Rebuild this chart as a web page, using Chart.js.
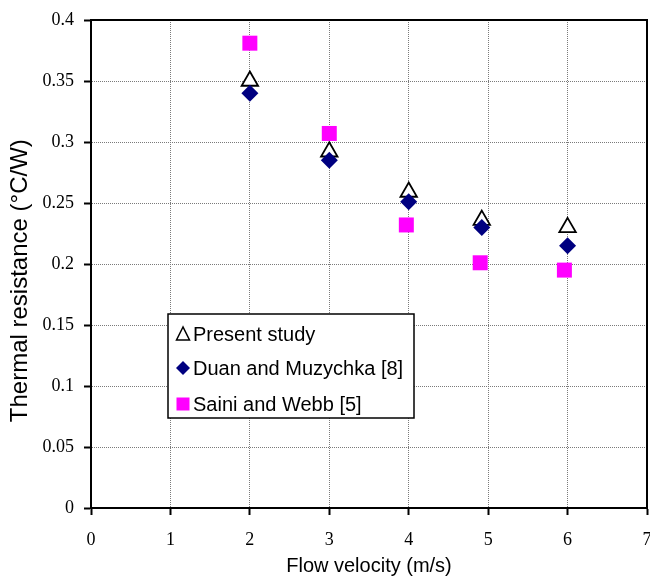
<!DOCTYPE html>
<html>
<head>
<meta charset="utf-8">
<script src="https://cdn.jsdelivr.net/npm/chart.js@4/dist/chart.umd.min.js"></script>
<style>
  body { margin: 0; background: #fff; }
</style>
</head>
<body>
<canvas id="thermalChart" width="650" height="578"></canvas>
<script>
// Data
const seriesNames = ['Present study', 'Duan and Muzychka [8]', 'Saini and Webb [5]'];
const velPresent = [2, 3, 4, 4.92, 6];
const resPresent = [0.35, 0.292, 0.259, 0.236, 0.23];
const velDuan = [2, 3, 4, 4.92, 6];
const resDuan = [0.34, 0.285, 0.251, 0.23, 0.215];
const velSaini = [2, 3, 3.97, 4.9, 5.96];
const resSaini = [0.381, 0.307, 0.232, 0.201, 0.195];

const toPoints = (xs, ys) => xs.map((x, i) => ({ x: x, y: ys[i] }));

// Frame (top + right edges) behind the markers
const framePlugin = {
    id: 'frame',
    beforeDatasetsDraw(chart) {
        const { ctx, chartArea: a } = chart;
        ctx.save();
        ctx.strokeStyle = '#000';
        ctx.lineWidth = 2;
        ctx.beginPath();
        ctx.moveTo(a.left, a.top);
        ctx.lineTo(a.right, a.top);
        ctx.lineTo(a.right, a.bottom);
        ctx.stroke();
        ctx.restore();
    },
};

// Boxed legend inside the plot
const boxLegend = {
    id: 'boxLegend',
    afterDraw(chart) {
        const { ctx, chartArea: a } = chart;
        const bx = a.left + 77, by = a.top + 294, bw = 246, bh = 104;
        ctx.save();
        ctx.fillStyle = '#fff';
        ctx.fillRect(bx, by, bw, bh);
        ctx.strokeStyle = '#000';
        ctx.lineWidth = 1.5;
        ctx.strokeRect(bx, by, bw, bh);

        const sx = bx + 15;
        const rows = [by + 20, by + 54, by + 90];

        // triangle
        ctx.beginPath();
        ctx.moveTo(sx, rows[0] - 7);
        ctx.lineTo(sx - 6.5, rows[0] + 6);
        ctx.lineTo(sx + 6.5, rows[0] + 6);
        ctx.closePath();
        ctx.fillStyle = '#fff';
        ctx.fill();
        ctx.strokeStyle = '#000';
        ctx.lineWidth = 1.5;
        ctx.stroke();

        // diamond
        ctx.beginPath();
        ctx.moveTo(sx, rows[1] - 7);
        ctx.lineTo(sx + 7, rows[1]);
        ctx.lineTo(sx, rows[1] + 7);
        ctx.lineTo(sx - 7, rows[1]);
        ctx.closePath();
        ctx.fillStyle = '#000080';
        ctx.fill();

        // square
        ctx.fillStyle = '#ff00ff';
        ctx.fillRect(sx - 6.5, rows[2] - 6.5, 13, 13);

        ctx.fillStyle = '#000';
        ctx.font = '20px "Liberation Sans", Arial, sans-serif';
        ctx.textBaseline = 'middle';
        ctx.textAlign = 'left';
        seriesNames.forEach((name, i) => ctx.fillText(name, bx + 25, rows[i] + 1));
        ctx.restore();
    },
};

const tickFont = { family: '"Liberation Serif", "Times New Roman", serif', size: 18 };
const titleFont = { family: '"Liberation Sans", Arial, sans-serif' };

const config = {
    type: 'scatter',
    data: {
        datasets: [
            {
                label: seriesNames[0],
                data: toPoints(velPresent, resPresent),
                pointStyle: 'triangle',
                pointRadius: 9.5,
                backgroundColor: '#fff',
                borderColor: '#000',
                borderWidth: 1.8,
                order: 3,
            },
            {
                label: seriesNames[1],
                data: toPoints(velDuan, resDuan),
                pointStyle: 'rectRot',
                pointRadius: 8.5,
                backgroundColor: '#000080',
                borderColor: '#000080',
                borderWidth: 0,
                order: 2,
            },
            {
                label: seriesNames[2],
                data: toPoints(velSaini, resSaini),
                pointStyle: 'rect',
                pointRadius: 10.6,
                backgroundColor: '#ff00ff',
                borderColor: '#ff00ff',
                borderWidth: 0,
                order: 1,
            },
        ],
    },
    options: {
        responsive: false,
        animation: false,
        layout: { autoPadding: false, padding: { top: 20, right: 3, left: 0, bottom: 0 } },
        plugins: {
            legend: { display: false },
            tooltip: { enabled: false },
        },
        scales: {
            x: {
                type: 'linear',
                min: 0,
                max: 7,
                ticks: { stepSize: 1, color: '#000', font: tickFont, padding: 14 },
                grid: { color: '#7a7a7a', lineWidth: 1, tickColor: '#000', tickWidth: 2, tickLength: 7 },
                border: { display: true, color: '#000', width: 2, dash: [1, 1] },
                title: {
                    display: true,
                    text: 'Flow velocity (m/s)',
                    color: '#000',
                    font: { ...titleFont, size: 20 },
                    padding: { top: 0, bottom: 0 },
                },
                afterFit(scale) {
                    scale.height = 70;
                    scale.paddingLeft = 0;
                    scale.paddingRight = 0;
                },
            },
            y: {
                min: 0,
                max: 0.4,
                ticks: {
                    stepSize: 0.05,
                    color: '#000',
                    font: tickFont,
                    padding: 10,
                    callback: (v) => String(+v.toFixed(2)),
                },
                grid: { color: '#7a7a7a', lineWidth: 1, tickColor: '#000', tickWidth: 2, tickLength: 7 },
                border: { display: true, color: '#000', width: 2, dash: [1, 1] },
                title: {
                    display: true,
                    // trailing spaces nudge the rotated title down a little
                    text: 'Thermal resistance (°C/W)     ',
                    color: '#000',
                    font: { ...titleFont, size: 24 },
                    padding: { top: 6, bottom: 0 },
                },
                afterFit(scale) {
                    scale.width = 91;
                    scale.paddingTop = 0;
                    scale.paddingBottom = 0;
                },
            },
        },
    },
    plugins: [framePlugin, boxLegend],
};

const thermalChart = new Chart(document.getElementById('thermalChart'), config);
</script>
</body>
</html>
